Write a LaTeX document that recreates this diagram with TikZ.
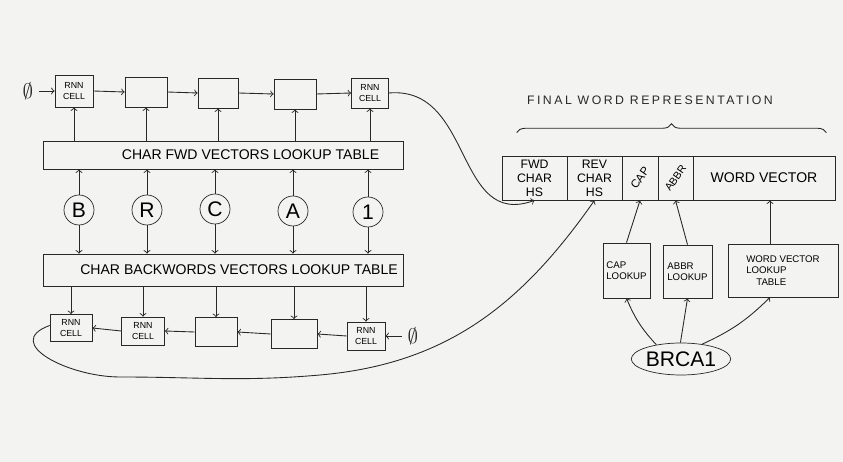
\documentclass[tikz,border=0pt]{standalone}
\usepackage{amsmath}
\usepackage{amssymb}
\usepackage{fontspec}
\setsansfont{Liberation Sans}
\newfontfamily\spacedfont[LetterSpace=20]{Liberation Sans}
\usepackage{tikz}
\usetikzlibrary{calc,shapes.geometric,decorations.pathreplacing}

\definecolor{paper}{RGB}{243,243,241}
\definecolor{pencil}{RGB}{40,40,40}

\begin{document}
\begin{tikzpicture}[
        rnncell/.style={
            rectangle,
            draw=pencil,
            align=center,
            minimum width=0.8cm,
            minimum height=0.6cm,
            font=\sffamily\tiny,
            inner sep=1pt
        },
        lutable/.style={
            rectangle,
            draw=pencil,
            minimum width=7.2cm,
            minimum height=0.6cm,
            font=\sffamily\footnotesize,
            inner sep=2pt
        },
        charnode/.style={
            circle,
            draw=pencil,
            minimum size=0.6cm,
            font=\sffamily\large,
            inner sep=0pt
        },
        repcell/.style={
            rectangle,
            draw=pencil,
            align=center,
            minimum height=0.88cm,
            font=\sffamily\scriptsize,
            inner sep=1pt
        },
        lookupbox/.style={
            rectangle,
            draw=pencil,
            align=left,
            minimum height=1.08cm,
            font=\sffamily\fontsize{5.5}{6.5}\selectfont,
            inner sep=1pt
        },
        arrow/.style={->, draw=pencil, line width=0.5pt}
    ]
        \fill[paper] (0,0) rectangle (16.86,9.24);

        % forward char rnn
        \node[text=pencil] (zeroa) at (0.56,7.42) {\large$\emptyset$};
        \node[rnncell, minimum width=0.76cm, minimum height=0.64cm] (tca) at (1.48,7.42) {RNN\\CELL};
        \node[rnncell, minimum width=0.84cm] (tcb) at (2.92,7.40) {};
        \node[rnncell] (tcc) at (4.36,7.38) {};
        \node[rnncell, minimum width=0.84cm] (tcd) at (5.90,7.36) {};
        \node[rnncell, minimum width=0.74cm] (tce) at (7.40,7.38) {RNN\\CELL};

        \node[lutable, minimum height=0.56cm] (fwd) at (4.46,6.14) {\hspace*{1.1cm}CHAR FWD VECTORS LOOKUP TABLE};

        \node[charnode] (chb) at (1.58,5.04) {B};
        \node[charnode] (chr) at (2.94,5.04) {R};
        \node[charnode] (chc) at (4.30,5.06) {C};
        \node[charnode] (cha) at (5.86,5.02) {A};
        \node[charnode] (cho) at (7.36,5.00) {1};

        \node[lutable, minimum height=0.64cm] (bwd) at (4.46,3.84) {\hspace*{0.64cm}CHAR BACKWORDS VECTORS LOOKUP TABLE};

        % backward char rnn
        \node[rnncell, minimum width=0.84cm, minimum height=0.54cm] (bca) at (1.42,2.68) {RNN\\CELL};
        \node[rnncell, minimum width=0.86cm, minimum height=0.56cm] (bcb) at (2.86,2.62) {RNN\\CELL};
        \node[rnncell, minimum width=0.84cm, minimum height=0.58cm] (bcc) at (4.32,2.60) {};
        \node[rnncell, minimum width=0.92cm, minimum height=0.58cm] (bcd) at (5.88,2.56) {};
        \node[rnncell, minimum width=0.76cm, minimum height=0.56cm] (bce) at (7.32,2.52) {RNN\\CELL};
        \node[text=pencil] (zerob) at (8.26,2.52) {\large$\emptyset$};

        % word representation
        \node[font=\spacedfont\scriptsize, text=pencil] (title) at (13.0,7.24) {FINAL WORD REPRESENTATION};
        \node[repcell, minimum width=1.30cm] (fwdhs) at (10.69,5.68) {FWD\\CHAR\\HS};
        \node[repcell, minimum width=1.10cm] (revhs) at (11.89,5.68) {REV\\CHAR\\HS};
        \node[repcell, minimum width=0.72cm, inner sep=0pt, font=\sffamily\fontsize{6.5}{7}\selectfont] (capcell) at (12.80,5.68) {\rotatebox{55}{CAP}};
        \node[repcell, minimum width=0.70cm, inner sep=0pt, font=\sffamily\fontsize{6}{7}\selectfont] (abbrcell) at (13.51,5.68) {\rotatebox{55}{ABBR}};
        \node[repcell, minimum width=2.84cm, font=\sffamily\footnotesize] (wordvec) at (15.28,5.68) {WORD VECTOR};

        \node[lookupbox, minimum width=0.94cm, minimum height=1.10cm] (caplk) at (12.53,3.83) {CAP\\LOOKUP};
        \node[lookupbox, minimum width=0.98cm, minimum height=1.06cm] (abbrlk) at (13.75,3.81) {ABBR\\LOOKUP};
        \node[lookupbox, minimum width=2.20cm, minimum height=1.06cm] (wvlk) at (15.66,3.83) {WORD VECTOR\\LOOKUP\\\hspace*{0.2cm}TABLE};
        \node[ellipse, draw=pencil, minimum width=1.76cm, minimum height=0.64cm, inner sep=0pt, font=\sffamily\large] (brca) at (13.62,2.06) {BRCA1};

        \draw[pencil, line width=0.5pt, decorate, decoration={brace, amplitude=5pt}]
            ([xshift=0.3cm, yshift=0.46cm]fwdhs.north west) -- ([xshift=-0.18cm, yshift=0.46cm]wordvec.north east);

        % forward chain
        \draw[arrow] (zeroa) -- (tca.west);
        \draw[arrow] (tca.east) -- (tcb.west);
        \draw[arrow] (tcb.east) -- (tcc.west);
        \draw[arrow] (tcc.east) -- (tcd.west);
        \draw[arrow] (tcd.east) -- (tce.west);
        \draw[arrow] (tca.south |- fwd.north) -- (tca.south);
        \draw[arrow] (tcb.south |- fwd.north) -- (tcb.south);
        \draw[arrow] (tcc.south |- fwd.north) -- (tcc.south);
        \draw[arrow] (tcd.south |- fwd.north) -- (tcd.south);
        \draw[arrow] (tce.south |- fwd.north) -- (tce.south);

        % chars into both tables
        \draw[arrow] (chb.north) -- (chb.north |- fwd.south);
        \draw[arrow] (chr.north) -- (chr.north |- fwd.south);
        \draw[arrow] (chc.north) -- (chc.north |- fwd.south);
        \draw[arrow] (cha.north) -- (cha.north |- fwd.south);
        \draw[arrow] (cho.north) -- (cho.north |- fwd.south);
        \draw[arrow] (chb.south) -- (chb.south |- bwd.north);
        \draw[arrow] (chr.south) -- (chr.south |- bwd.north);
        \draw[arrow] (chc.south) -- (chc.south |- bwd.north);
        \draw[arrow] (cha.south) -- (cha.south |- bwd.north);
        \draw[arrow] (cho.south) -- (cho.south |- bwd.north);

        % backward chain
        \draw[arrow] (bca.north |- bwd.south) -- (bca.north);
        \draw[arrow] (bcb.north |- bwd.south) -- (bcb.north);
        \draw[arrow] (bcc.north |- bwd.south) -- (bcc.north);
        \draw[arrow] (bcd.north |- bwd.south) -- (bcd.north);
        \draw[arrow] (bce.north |- bwd.south) -- (bce.north);
        \draw[arrow] (zerob) -- (bce.east);
        \draw[arrow] (bce.west) -- (bcd.east);
        \draw[arrow] (bcd.west) -- (bcc.east);
        \draw[arrow] (bcc.west) -- (bcb.east);
        \draw[arrow] (bcb.west) -- (bca.east);

        % hidden states to the word representation
        \draw[arrow] (tce.east) to[out=5, in=200, looseness=1.2] (fwdhs.south);
        \draw[arrow] ([yshift=0.05cm]bca.west) to[out=200, in=180, looseness=1.5] (2.4,1.70)
            to[out=0, in=185] (6.4,1.74) to[out=5, in=235] (revhs.south);

        % word features
        \draw[arrow] (caplk.north) -- (capcell.south);
        \draw[arrow] (abbrlk.north) -- (abbrcell.south);
        \draw[arrow] ([xshift=-0.26cm]wvlk.north) -- ([xshift=-0.26cm]wvlk.north |- wordvec.south);
        \draw[arrow] (brca.150) to[bend left=10] (caplk.south);
        \draw[arrow] (brca.92) -- (abbrlk.south);
        \draw[arrow] (brca.35) to[bend right=10] ([xshift=-0.26cm]wvlk.south);
    \end{tikzpicture}
\end{document}
